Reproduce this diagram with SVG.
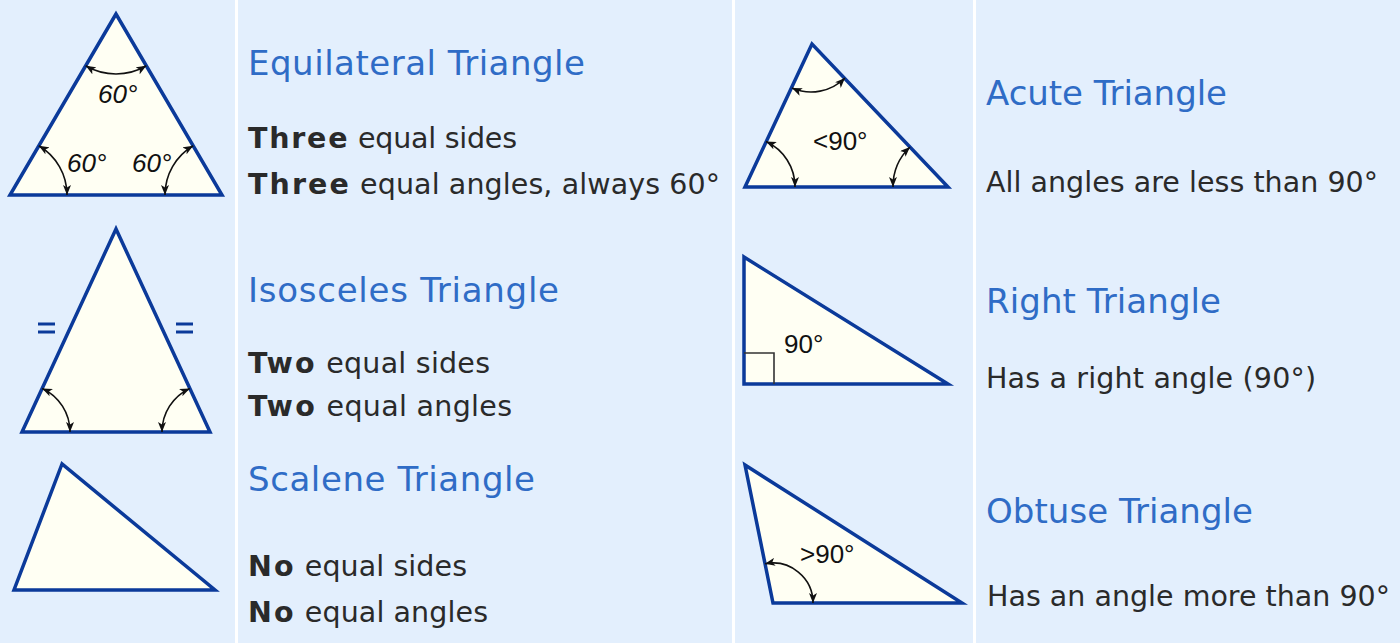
<svg xmlns="http://www.w3.org/2000/svg" width="1400" height="643" viewBox="0 0 1400 643">
<style>
.tri{fill:#fffff3;stroke:#0b3a9a;stroke-width:3.5;stroke-linejoin:miter}
.arc{fill:none;stroke:#111;stroke-width:1.6;marker-start:url(#ah);marker-end:url(#ah)}
.eq{stroke:#0b3a9a;stroke-width:3}
.h{font-family:"DejaVu Sans",Verdana,sans-serif;font-size:34px;fill:#2f6cc6}
.b{font-family:"DejaVu Sans",Verdana,sans-serif;font-size:28.5px;fill:#2a2a2a}
.b tspan.k{font-weight:bold;letter-spacing:2px}
.ang{font-family:"Liberation Sans",Arial,sans-serif;font-size:26px;fill:#111}
.it{font-style:italic}
.sep{stroke:#ffffff;stroke-width:3}
</style>
<defs>
<marker id="ah" viewBox="0 0 10 8" refX="10" refY="4" markerWidth="10" markerHeight="8" markerUnits="userSpaceOnUse" orient="auto-start-reverse">
<path d="M0,0 L10,4 L0,8 L2.5,4 Z" fill="#111"/>
</marker>
</defs>
<rect x="0" y="0" width="1400" height="643" fill="#e3effd"/>
<g id="separators">
<line class="sep" x1="236.5" y1="0" x2="236.5" y2="643"/>
<line class="sep" x1="733.5" y1="0" x2="733.5" y2="643"/>
<line class="sep" x1="974.5" y1="0" x2="974.5" y2="643"/>
</g>
<g id="equilateral">
<polygon class="tri" points="116,14 10,195 222,195"/>
<path class="arc" d="M85.7,65.8 A60,60 0 0 0 146.3,65.8"/>
<path class="arc" d="M38.8,145.8 A57,57 0 0 1 67,195"/>
<path class="arc" d="M193.2,145.8 A57,57 0 0 0 165,195"/>
<text class="ang it" x="98" y="103">60°</text>
<text class="ang it" x="67" y="172">60°</text>
<text class="ang it" x="132" y="172">60°</text>
<text class="h" x="248" y="75" textLength="337" lengthAdjust="spacing">Equilateral Triangle</text>
<text class="b" x="248" y="148" textLength="269" lengthAdjust="spacing"><tspan class="k">Three</tspan> equal sides</text>
<text class="b" x="248" y="194" textLength="472" lengthAdjust="spacing"><tspan class="k">Three</tspan> equal angles, always 60°</text>
</g>
<g id="isosceles">
<polygon class="tri" points="116,229 22,432 210,432"/>
<line class="eq" x1="38" y1="324" x2="55" y2="324"/>
<line class="eq" x1="38" y1="332" x2="55" y2="332"/>
<line class="eq" x1="176" y1="324" x2="193" y2="324"/>
<line class="eq" x1="176" y1="332" x2="193" y2="332"/>
<path class="arc" d="M42.2,388.4 A48,48 0 0 1 70,432"/>
<path class="arc" d="M189.8,388.4 A48,48 0 0 0 162,432"/>
<text class="h" x="248" y="302" textLength="311" lengthAdjust="spacing">Isosceles Triangle</text>
<text class="b" x="248" y="373" textLength="242" lengthAdjust="spacing"><tspan class="k">Two</tspan> equal sides</text>
<text class="b" x="248" y="416" textLength="264" lengthAdjust="spacing"><tspan class="k">Two</tspan> equal angles</text>
</g>
<g id="scalene">
<polygon class="tri" points="62,464 14,590 215,590"/>
<text class="h" x="248" y="491" textLength="287" lengthAdjust="spacing">Scalene Triangle</text>
<text class="b" x="248" y="576" textLength="219" lengthAdjust="spacing"><tspan class="k">No</tspan> equal sides</text>
<text class="b" x="248" y="622" textLength="240" lengthAdjust="spacing"><tspan class="k">No</tspan> equal angles</text>
</g>
<g id="acute">
<polygon class="tri" points="812,44 745,187 948,187"/>
<path class="arc" d="M792,88 A48,48 0 0 0 845,78"/>
<path class="arc" d="M766,141.5 A50,50 0 0 1 795,187"/>
<path class="arc" d="M910,147 A55,55 0 0 0 893,187"/>
<text class="ang" x="813" y="150">&lt;90°</text>
<text class="h" x="986" y="105" textLength="241" lengthAdjust="spacing">Acute Triangle</text>
<text class="b" x="986" y="192" textLength="392" lengthAdjust="spacing">All angles are less than 90°</text>
</g>
<g id="right">
<polygon class="tri" points="744,257 744,384 948,384"/>
<polyline points="744,353 774,353 774,384" fill="none" stroke="#333" stroke-width="1.6"/>
<text class="ang" x="784" y="353">90°</text>
<text class="h" x="986" y="313" textLength="235" lengthAdjust="spacing">Right Triangle</text>
<text class="b" x="986" y="388" textLength="330" lengthAdjust="spacing">Has a right angle (90°)</text>
</g>
<g id="obtuse">
<polygon class="tri" points="745,465 773,603 962,603"/>
<path class="arc" d="M765,563.8 A40,40 0 0 1 813,603"/>
<text class="ang" x="800" y="563">&gt;90°</text>
<text class="h" x="986" y="523" textLength="267" lengthAdjust="spacing">Obtuse Triangle</text>
<text class="b" x="987" y="606" textLength="403" lengthAdjust="spacing">Has an angle more than 90°</text>
</g>
<g id="connectors"></g>
</svg>
